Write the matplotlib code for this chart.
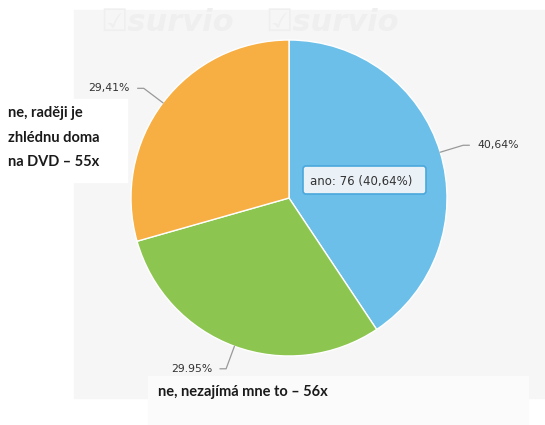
import numpy as np
import matplotlib.pyplot as plt
from matplotlib.patches import Rectangle, FancyBboxPatch

# Survey answers (counts) and their labels
answers = ['ano', 'ne, nezajímá mne to', 'ne, raději je zhlédnu doma na DVD']
counts = [76, 56, 55]
pct_labels = ['40,64%', '29.95%', '29,41%']
colors = ['#6bbfe9', '#8dc551', '#f7ae42']

W, H = 545, 425


def py(y):
    # pixel row (from top) -> data y
    return H - y


fig = plt.figure(figsize=(W / 100, H / 100), dpi=100)
ax = fig.add_axes([0, 0, 1, 1])

# grey chart area
ax.add_patch(Rectangle((74, py(398)), W - 74, 388, color='#f6f6f6', zorder=0))

# faint watermark (top row only, the rest is barely visible)
for x0 in (100, 265):
    ax.text(x0, py(22), '\u2611survio', fontsize=22, fontweight='bold',
            style='italic', color='#efefef', va='center', ha='left',
            zorder=0.5)

cx, cy, r = 289, py(198), 158
wedges, _ = ax.pie(counts, colors=colors, startangle=90, counterclock=False,
                   center=(cx, cy), radius=r, frame=True,
                   wedgeprops=dict(edgecolor='white', linewidth=1))
ax.set_xlim(0, W)
ax.set_ylim(0, H)
ax.set_aspect('equal')
ax.axis('off')

# percentage labels with leader lines
total = sum(counts)
start = 90.0
for val, lab in zip(counts, pct_labels):
    span = 360.0 * val / total
    mid = np.radians(start - span / 2)
    start -= span
    ex, ey = cx + r * np.cos(mid), cy + r * np.sin(mid)
    bx, by = cx + (r + 24) * np.cos(mid), cy + (r + 24) * np.sin(mid)
    side = 1 if np.cos(mid) >= 0 else -1
    tx = bx + side * 6
    ax.plot([ex, bx, tx], [ey, by, by], color='#999999', lw=0.9, zorder=3)
    ax.text(tx + side * 8, by, lab, fontsize=7.8, color='#333333',
            ha='left' if side > 0 else 'right', va='center', zorder=3)

# tooltip
ax.add_patch(FancyBboxPatch((303, py(194)), 123, 28,
                            boxstyle='round,pad=0,rounding_size=3',
                            facecolor='#eaf2f8', edgecolor='#4aa8dc',
                            linewidth=1.2, zorder=4))
ax.text(310, py(181), 'ano: %d (%s)' % (counts[0], pct_labels[0]),
        fontsize=8.5, color='#333333', va='center', ha='left', zorder=5)

# category labels in white boxes
ax.add_patch(Rectangle((0, py(182)), 127, 83, color='white', zorder=2))
ax.text(8, py(113), 'ne, raději je', fontsize=10.5, fontweight='bold',
        family='Lato', color='#1a1a1a', va='center', zorder=3)
ax.text(8, py(138), 'zhlédnu doma', fontsize=10.5, fontweight='bold',
        family='Lato', color='#1a1a1a', va='center', zorder=3)
ax.text(8, py(162), 'na DVD \u2013 %dx' % counts[2], fontsize=10.5,
        fontweight='bold', family='Lato', color='#1a1a1a', va='center',
        zorder=3)

ax.add_patch(Rectangle((148, 0), 380, py(376), color='#fbfbfb', zorder=2))
ax.text(158, py(392), 'ne, nezajímá mne to \u2013 %dx' % counts[1],
        fontsize=10.5, fontweight='bold', family='Lato', color='#1a1a1a',
        va='center', zorder=3)

fig.savefig('out.png', dpi=100, facecolor='white')
